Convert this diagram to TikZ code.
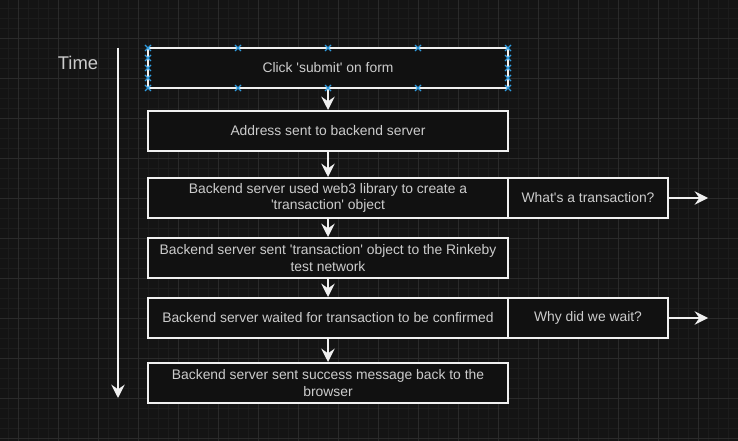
\documentclass[tikz,border=0pt]{standalone}
\usepackage{fontspec}
\newfontfamily\boxfont{Liberation Sans}
\usetikzlibrary{arrows.meta, positioning}

\definecolor{canvas}{HTML}{141414}
\definecolor{gridminor}{HTML}{1C1C1C}
\definecolor{gridmajor}{HTML}{2A2A2A}
\definecolor{boxfill}{HTML}{111111}
\definecolor{boxline}{HTML}{F0F0F0}
\definecolor{boxtext}{HTML}{CCCCCC}
\definecolor{handle}{HTML}{2E9CE0}

\tikzset{
  stepbox/.style={draw=boxline, line width=1.5pt, fill=boxfill, text=boxtext,
    minimum width=270pt, minimum height=30pt, align=center, inner sep=1pt,
    font=\boxfont\fontsize{10.4pt}{12.2pt}\selectfont},
  sidebox/.style={stepbox, minimum width=120pt},
  flow/.style={draw=boxline, line width=1.5pt, -{Stealth[length=10pt, width=10pt, inset=3.5pt]}},
  grab/.style={handle, line width=0.9pt}
}

\begin{document}
\begin{tikzpicture}[x=0.75pt, y=-0.75pt]
      % canvas and grid
      \fill[canvas] (0,0) rectangle (738,441);
      \useasboundingbox (0,0) rectangle (738,441);
      \foreach \g in {8,18,...,738} \draw[gridminor, line width=0.4pt] (\g,0) -- (\g,441);
      \foreach \g in {8,18,...,441} \draw[gridminor, line width=0.4pt] (0,\g) -- (738,\g);
      \foreach \g in {18,58,...,738} \draw[gridmajor, line width=0.6pt] (\g,0) -- (\g,441);
      \foreach \g in {38,78,...,441} \draw[gridmajor, line width=0.6pt] (0,\g) -- (738,\g);

      % time axis
      \node[text=boxtext, font=\boxfont\fontsize{13.8pt}{16pt}\selectfont] (time) at (78,63) {Time};
      \coordinate (tstart) at (118,48);
      \coordinate (tend) at (118,398);
      \draw[flow] (tstart) -- (tend);

      % steps
      \node[stepbox] (submit) at (328,68) {Click 'submit' on form};
      \node[stepbox] (address) at (328,131) {Address sent to backend server};
      \node[stepbox] (create) at (328,198) {Backend server used web3 library to create a\\'transaction' object};
      \node[sidebox] (whattx) at (588,198) {What's a transaction?};
      \node[stepbox] (sent) at (328,258) {Backend server sent 'transaction' object to the Rinkeby\\test network};
      \node[stepbox] (waited) at (328,318) {Backend server waited for transaction to be confirmed};
      \node[sidebox] (whywait) at (588,318) {Why did we wait?};
      \node[stepbox] (success) at (328,383) {Backend server sent success message back to the\\browser};

      \draw[flow] (submit) -- (address);
      \draw[flow] (address) -- (create);
      \draw[flow] (create) -- (sent);
      \draw[flow] (sent) -- (waited);
      \draw[flow] (waited) -- (success);

      \coordinate (txout) at (708,198);
      \coordinate (waitout) at (708,318);
      \draw[flow] (whattx) -- (txout);
      \draw[flow] (whywait) -- (waitout);

      % selection handles on the first box
      \foreach \hx in {148,238,328,418,508} {
        \foreach \hy in {48,88}
          \draw[grab] (\hx-3,\hy-3) -- (\hx+3,\hy+3) (\hx-3,\hy+3) -- (\hx+3,\hy-3);
      }
      \foreach \hx in {148,508} {
        \foreach \hy in {58,68,78}
          \draw[grab] (\hx-3,\hy-3) -- (\hx+3,\hy+3) (\hx-3,\hy+3) -- (\hx+3,\hy-3);
      }
    \end{tikzpicture}
\end{document}
